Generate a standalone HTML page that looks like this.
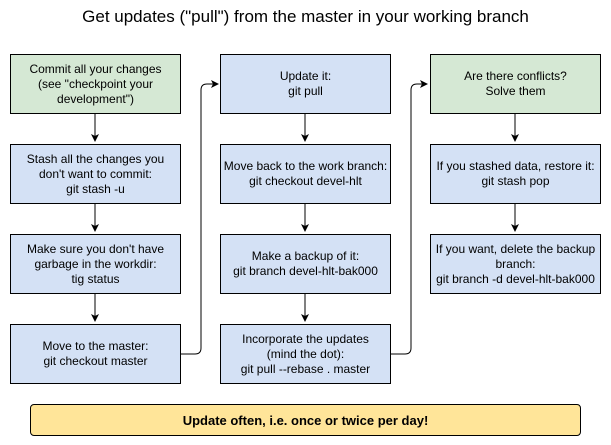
<!DOCTYPE html>
<html><head><style>
body{margin:0;width:611px;height:445px;background:#fff;font-family:"Liberation Sans",Arial,sans-serif;position:relative;overflow:hidden}
.t{position:absolute;left:0;width:611px;top:7px;text-align:center;font-size:17px;color:#000}
.b{position:absolute;width:169px;height:58px;border:1px solid #000;background:#d4e1f5;display:flex;align-items:center;justify-content:center;text-align:center;font-size:12px;line-height:15px;color:#000;box-sizing:border-box;height:60px;width:171px}
.g{background:#d5e8d4}
.y{position:absolute;left:30px;top:404px;width:551px;height:32px;box-sizing:border-box;border:1px solid #000;background:#ffe599;display:flex;align-items:center;justify-content:center;font-weight:bold;font-size:13px;border-radius:4px}
svg{position:absolute;left:0;top:0}
</style></head><body>
<div class="t">Get updates ("pull") from the master in your working branch</div>
<svg width="611" height="445">
<defs><marker id="a" markerWidth="8" markerHeight="8" refX="7" refY="4" orient="auto" markerUnits="userSpaceOnUse"><path d="M0,0L8,4L0,8L2,4z" fill="#000"/></marker></defs>
<g stroke="#000" fill="none" stroke-width="1">
<path d="M95,114V141" marker-end="url(#a)"/>
<path d="M95,204V231" marker-end="url(#a)"/>
<path d="M95,294V321" marker-end="url(#a)"/>
<path d="M305,114V141" marker-end="url(#a)"/>
<path d="M305,204V231" marker-end="url(#a)"/>
<path d="M305,294V321" marker-end="url(#a)"/>
<path d="M515,114V141" marker-end="url(#a)"/>
<path d="M515,204V231" marker-end="url(#a)"/>
<path d="M181,354H195Q201,354 201,348V90Q201,84 207,84H218" marker-end="url(#a)"/>
<path d="M391,354H405Q411,354 411,348V90Q411,84 417,84H427" marker-end="url(#a)"/>
</g></svg>
<div class="b g" style="left:10px;top:54px">Commit all your changes<br>(see "checkpoint your<br>development")</div>
<div class="b" style="left:10px;top:144px">Stash all the changes you<br>don't want to commit:<br>git stash -u</div>
<div class="b" style="left:10px;top:234px">Make sure you don't have<br>garbage in the workdir:<br>tig status</div>
<div class="b" style="left:10px;top:324px">Move to the master:<br>git checkout master</div>
<div class="b" style="left:220px;top:54px">Update it:<br>git pull</div>
<div class="b" style="left:220px;top:144px">Move back to the work branch:<br>git checkout devel-hlt</div>
<div class="b" style="left:220px;top:234px">Make a backup of it:<br>git branch devel-hlt-bak000</div>
<div class="b" style="left:220px;top:324px">Incorporate the updates<br>(mind the dot):<br>git pull --rebase . master</div>
<div class="b g" style="left:430px;top:54px">Are there conflicts?<br>Solve them</div>
<div class="b" style="left:430px;top:144px">If you stashed data, restore it:<br>git stash pop</div>
<div class="b" style="left:430px;top:234px">If you want, delete the backup<br>branch:<br>git branch -d devel-hlt-bak000</div>
<div class="y">Update often, i.e. once or twice per day!</div>
</body></html>
